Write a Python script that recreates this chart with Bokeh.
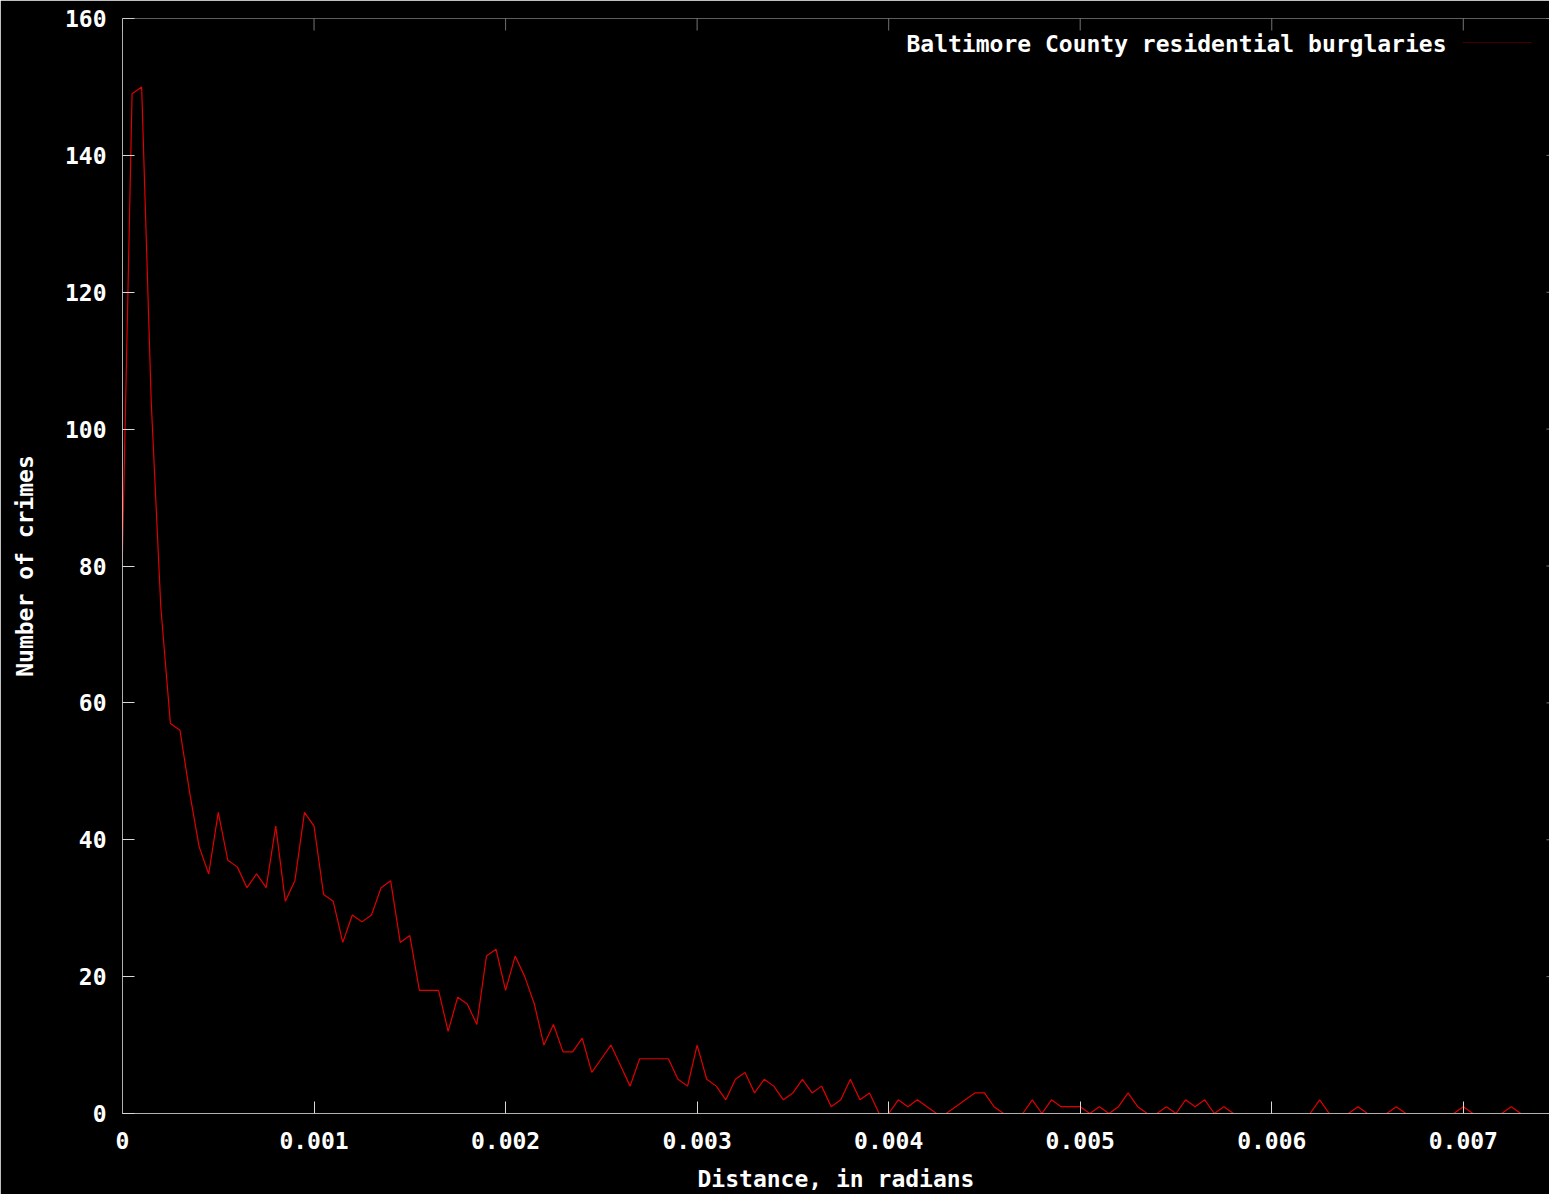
from bokeh.plotting import figure
from bokeh.models import Range1d, FixedTicker, Label, BoxAnnotation
from bokeh.embed import file_html
from bokeh.resources import INLINE

# Histogram of pairwise distances (bin width 0.00005 rad), counts per bin
bin_width = 0.00005
counts = [
    82, 149, 150, 104, 74, 57, 56, 47, 39, 35,
    44, 37, 36, 33, 35, 33, 42, 31, 34, 44,
    42, 32, 31, 25, 29, 28, 29, 33, 34, 25,
    26, 18, 18, 18, 12, 17, 16, 13, 23, 24,
    18, 23, 20, 16, 10, 13, 9, 9, 11, 6,
    8, 10, 7, 4, 8, 8, 8, 8, 5, 4,
    10, 5, 4, 2, 5, 6, 3, 5, 4, 2,
    3, 5, 3, 4, 1, 2, 5, 2, 3, 0,
    0, 2, 1, 2, 1, 0, 0, 1, 2, 3,
    3, 1, 0, 0, 0, 2, 0, 2, 1, 1,
    1, 0, 1, 0, 1, 3, 1, 0, 0, 1,
    0, 2, 1, 2, 0, 1, 0, 0, 0, 0,
    0, 0, 0, 0, 0, 2, 0, 0, 0, 1,
    0, 0, 0, 1, 0, 0, 0, 0, 0, 0,
    1, 0, 0, 0, 0, 1, 0, 0, 0, 0,
]
distance = [round(i * bin_width, 8) for i in range(len(counts))]

series_name = "Baltimore County residential burglaries"
x_ticks = [0, 0.001, 0.002, 0.003, 0.004, 0.005, 0.006, 0.007]
x_tick_labels = ["0", "0.001", "0.002", "0.003", "0.004", "0.005", "0.006", "0.007"]
y_ticks = [0, 20, 40, 60, 80, 100, 120, 140, 160]

FONT = "DejaVu Sans Mono"
TEXT_SIZE = "23px"
AXIS_GREY = "#b0b0b0"
TICK_GREY = "#d8d8d8"
RED = "#e00000"

W, H = 1549, 1194
BORDER_L, BORDER_R, BORDER_T, BORDER_B = 122, 0, 18, 81
FRAME_W = W - BORDER_L - BORDER_R
FRAME_H = H - BORDER_T - BORDER_B

p = figure(
    width=W, height=H,
    output_backend="svg", toolbar_location=None,
    x_range=Range1d(0, 0.00745), y_range=Range1d(0, 160),
    x_axis_label="Distance, in radians", y_axis_label="Number of crimes",
    min_border_left=BORDER_L, min_border_right=BORDER_R,
    min_border_top=BORDER_T, min_border_bottom=BORDER_B,
    background_fill_color="black", border_fill_color="black",
    outline_line_color=None,
)
p.grid.visible = False

p.line(distance, counts, line_color=RED, line_width=1.2)


def style_axis(ax):
    ax.axis_line_color = AXIS_GREY
    ax.axis_line_width = 1
    ax.major_tick_line_color = TICK_GREY
    ax.major_tick_in = 12
    ax.major_tick_out = 0
    ax.minor_tick_line_color = None
    ax.major_label_text_color = "white"
    ax.major_label_text_font = FONT
    ax.major_label_text_font_style = "bold"
    ax.major_label_text_font_size = TEXT_SIZE
    ax.axis_label_text_color = "white"
    ax.axis_label_text_font = FONT
    ax.axis_label_text_font_style = "bold"
    ax.axis_label_text_font_size = TEXT_SIZE


xax = p.xaxis[0]
xax.ticker = FixedTicker(ticks=x_ticks)
xax.major_label_overrides = dict(zip(x_ticks, x_tick_labels))
style_axis(xax)
xax.major_label_standoff = 18
xax.axis_label_standoff = 14

yax = p.yaxis[0]
yax.ticker = FixedTicker(ticks=y_ticks)
style_axis(yax)
yax.major_label_standoff = 16
yax.axis_label_standoff = 24

# top border with mirrored inward ticks
p.add_layout(BoxAnnotation(
    left=0, right=FRAME_W, top=FRAME_H, bottom=FRAME_H,
    left_units="screen", right_units="screen", top_units="screen", bottom_units="screen",
    fill_alpha=0, line_color=AXIS_GREY, line_width=1,
))
for t in x_ticks:
    p.add_layout(BoxAnnotation(
        left=t, right=t, top=FRAME_H, bottom=FRAME_H - 12,
        top_units="screen", bottom_units="screen",
        fill_alpha=0, line_color=TICK_GREY, line_width=1,
    ))
# mirrored y ticks at the right edge
for t in y_ticks:
    p.add_layout(BoxAnnotation(
        left=FRAME_W - 3, right=FRAME_W, top=t, bottom=t,
        left_units="screen", right_units="screen",
        fill_alpha=0, line_color=TICK_GREY, line_width=1,
    ))

# key: text followed by a line sample, top right
p.add_layout(Label(
    x=FRAME_W - 103, y=FRAME_H - 25, x_units="screen", y_units="screen",
    text=series_name, text_align="right", text_baseline="middle",
    text_color="white", text_font=FONT, text_font_size=TEXT_SIZE,
    text_font_style="bold",
))
p.add_layout(BoxAnnotation(
    left=FRAME_W - 87, right=FRAME_W - 18, top=FRAME_H - 24, bottom=FRAME_H - 24,
    left_units="screen", right_units="screen", top_units="screen", bottom_units="screen",
    fill_alpha=0, line_color=RED, line_width=1.2,
))

open("out.html", "w").write(file_html(p, INLINE))
